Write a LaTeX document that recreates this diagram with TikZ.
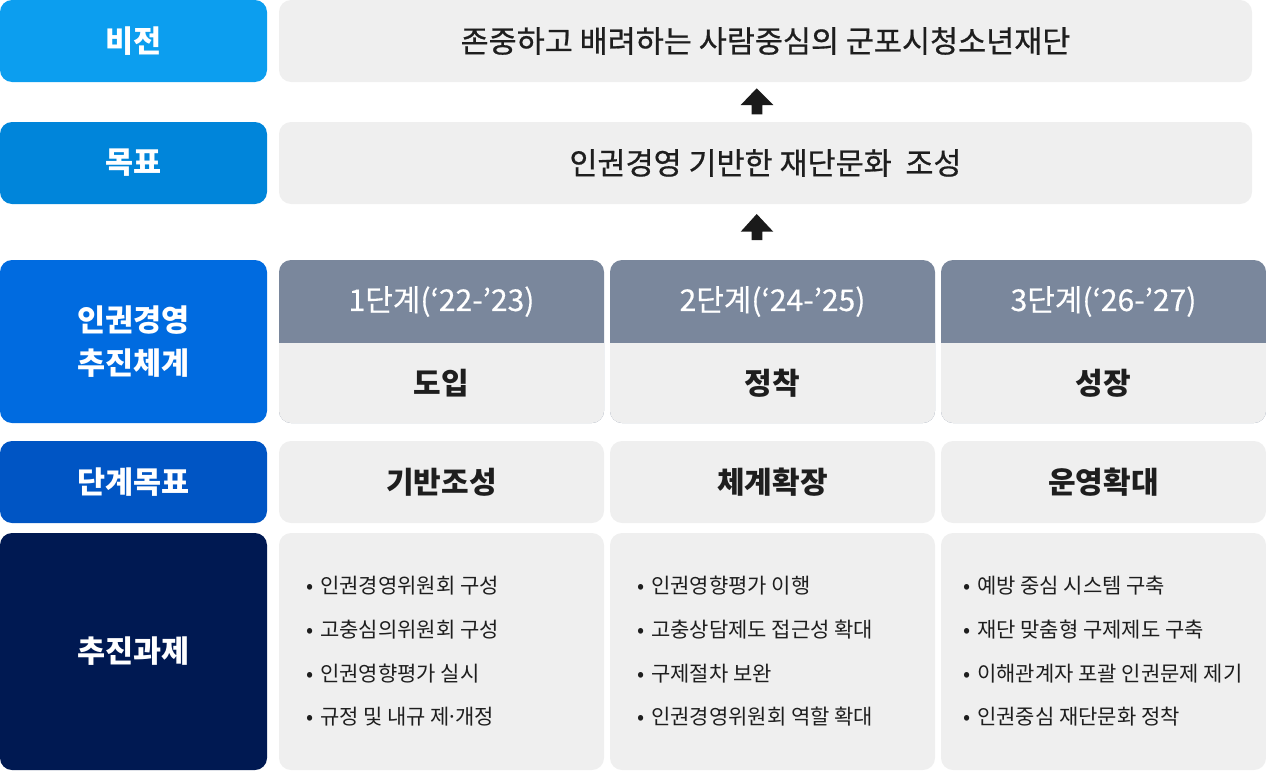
\documentclass[tikz,border=0pt]{standalone}
\usepackage{fontspec}
\setmainfont{Noto Sans CJK KR}
\newfontfamily\medfont[FakeBold=0.6]{Noto Sans CJK KR}
\newfontfamily\hdrfont[FakeBold=0.4]{Noto Sans CJK KR}
\definecolor{cVis}{HTML}{0C9EEF}
\definecolor{cGoal}{HTML}{0085DA}
\definecolor{cSys}{HTML}{006BE0}
\definecolor{cStep}{HTML}{0055C4}
\definecolor{cTask}{HTML}{001952}
\definecolor{cHdr}{HTML}{7A879C}
\definecolor{cBox}{HTML}{EFEFEF}
\definecolor{cTxt}{HTML}{1E1E1E}
\definecolor{cArr}{HTML}{1A1A1A}
\newcommand\bu{\makebox[14pt][l]{•}}
\newcommand\mdot{\makebox[5pt]{·}}
\begin{document}
\begin{tikzpicture}[x=1pt,y=-1pt,
  lab/.style={fill=#1, rounded corners=12pt, inner sep=0pt, minimum width=267pt,
    text=white, font=\fontsize{30.5}{43}\selectfont\bfseries, align=center},
  wide/.style={fill=cBox, rounded corners=12pt, inner sep=0pt, minimum width=973pt,
    minimum height=82pt, text=cTxt, font=\fontsize{30.5}{34}\selectfont\medfont},
  colbox/.style={fill=cBox, rounded corners=12pt, inner sep=0pt, minimum width=325pt},
  hdrtxt/.style={text=white, inner sep=0pt, font=\fontsize{30}{34}\selectfont\hdrfont},
  bodytxt/.style={text=cTxt, inner sep=0pt, font=\fontsize{30}{34}\selectfont\bfseries},
  bul/.style={text=cTxt, inner sep=0pt, anchor=west, align=left, font=\fontsize{21}{43.7}\selectfont},
  blockarrow/.style={fill=cArr}]
\useasboundingbox (0,0) rectangle (1266,771);

% left labels
\node[lab=cVis, minimum height=82pt] (lv) at (133.5,41) {비전};
\node[lab=cGoal, minimum height=82pt] (lg) at (133.5,163) {목표};
\node[lab=cSys, minimum height=163pt] (ls) at (133.5,341.5) {인권경영\\추진체계};
\node[lab=cStep, minimum height=82pt] (lt) at (133.5,482) {단계목표};
\node[lab=cTask, minimum height=237pt] (lk) at (133.5,651.5) {추진과제};

% vision and goal
\node[wide] (vis) at (765.5,41) {존중하고 배려하는 사람중심의 군포시청소년재단};
\node[wide] (goal) at (765.5,163) {인권경영 기반한 재단문화~~조성};

% arrows
\fill[blockarrow] (756.7,88.3) -- (773.3,105) -- (762.3,105) -- (762.3,114.3) -- (751.7,114.3) -- (751.7,105) -- (740.7,105) -- cycle;
\fill[blockarrow] (756.7,214) -- (773.3,231.7) -- (762.3,231.7) -- (762.3,240) -- (751.7,240) -- (751.7,231.7) -- (740.7,231.7) -- cycle;

% stage columns
\foreach \x/\n/\h/\b/\g in {279/1/{1단계(‘22-’23)}/도입/기반조성, 610/2/{2단계(‘24-’25)}/정착/체계확장, 941/3/{3단계(‘26-’27)}/성장/운영확대}{
  \fill[cHdr, rounded corners=12pt] (\x,260) rectangle (\x+325,423);
  \fill[cBox, rounded corners=12pt] (\x,343) rectangle (\x+325,423);
  \fill[cBox] (\x,343) rectangle (\x+325,365);
  \node[hdrtxt] (h\n) at (\x+162.5,301.5) {\h};
  \node[bodytxt] (b\n) at (\x+162.5,383) {\b};
  \node[colbox, minimum height=82pt, bodytxt] (g\n) at (\x+162.5,482) {\g};
  \node[colbox, minimum height=237pt] (k\n) at (\x+162.5,651.5) {};
}

% tasks
\node[bul] (p1) at (306,651.5) {\bu 인권경영위원회 구성\\\bu 고충심의위원회 구성\\\bu 인권영향평가 실시\\\bu 규정 및 내규 제\mdot 개정};
\node[bul] (p2) at (637,651.5) {\bu 인권영향평가 이행\\\bu 고충상담제도 접근성 확대\\\bu 구제절차 보완\\\bu 인권경영위원회 역할 확대};
\node[bul] (p3) at (963,651.5) {\bu 예방 중심 시스템 구축\\\bu 재단 맞춤형 구제제도 구축\\\bu 이해관계자 포괄 인권문제 제기\\\bu 인권중심 재단문화 정착};
\end{tikzpicture}
\end{document}
